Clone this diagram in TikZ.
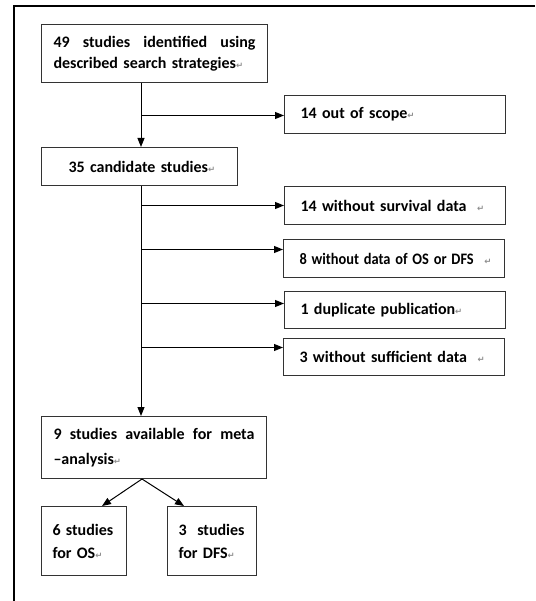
\documentclass[tikz,border=0pt]{standalone}
\usepackage{fontspec}
\setmainfont{Carlito}
\newfontfamily\dejavu{DejaVu Sans}
\usepackage{xcolor}
\usepackage{graphicx}
\usetikzlibrary{arrows.meta, positioning, calc}
\definecolor{markgray}{RGB}{140,140,140}
\newcommand{\pmark}{\rlap{\dejavu\fontsize{8.5}{9}\selectfont\color{markgray}↵}}

\begin{document}
\begin{tikzpicture}[
        x=1pt, y=1pt,
        box/.style={rectangle, draw=black!80, line width=1pt,
                    minimum height=38pt, inner xsep=12pt, inner ysep=0pt,
                    align=left, font=\bfseries\fontsize{16}{21}\selectfont},
        sidebox/.style={box, inner xsep=16pt, text width=189pt},
        smallbox/.style={box, inner xsep=11pt, minimum height=69pt},
        arr/.style={line width=1pt, -{Triangle[length=9pt, width=7pt]}}
      ]
        \useasboundingbox (0,0) rectangle (535,-601);
        % frame
        \draw[line width=2.7pt] (14,-601) -- (14,-6) -- (535,-6);

        % main column
        \node[box, text width=202pt, minimum height=58pt, anchor=north west]
              (n49) at (41,-24) {49\hfill studies\hfill identified\hfill using\\described search strategies\pmark};
        \node[box, text width=172pt, below=64pt of n49.south west, anchor=north west]
              (n35) {\hspace*{15pt}35 candidate studies\pmark};
        \node[box, text width=201pt, minimum height=62pt, below=230pt of n35.south west, anchor=north west]
              (n9) {9\hfill studies\hfill available\hfill for\hfill meta\\[4pt]–analysis\pmark};
        \node[smallbox, text width=63pt, below=27pt of n9.south west, anchor=north west]
              (os) {\mbox{6 studies}\\[2pt]for OS\pmark};
        \node[smallbox, text width=67pt, right=40pt of os.north east, anchor=north west]
              (dfs) {\mbox{3\ \ studies}\\[2pt]for DFS\pmark};

        % excluded
        \node[sidebox, below right=12pt and 16pt of n49.south east, anchor=north west]
              (scope) {14 out of scope\pmark};
        \node[sidebox, below=52pt of scope.south west, anchor=north west]
              (surv) {14 without survival data\ \ \pmark};
        \node[sidebox, below=14pt of surv.south west, anchor=north west, xshift=-1pt]
              (osdfs) {\scalebox{0.9}[1]{8 without data of OS or DFS}\ \ \pmark};
        \node[sidebox, below=13pt of osdfs.south west, anchor=north west, xshift=1pt, minimum height=37pt]
              (dup) {1 duplicate publication\pmark};
        \node[sidebox, below=9pt of dup.south west, anchor=north west, xshift=-1pt, minimum height=37pt]
              (suff) {3 without sufficient data\ \ \pmark};

        % trunk
        \coordinate (t0) at ($(n49.south west)+(100,0)$);
        \coordinate (t1) at ($(n35.south west)+(100,0)$);
        \draw[arr] (t0) -- (t0 |- n35.north);
        \draw[arr] (t1) -- (t1 |- n9.north);
        \foreach \n/\dy in {scope/-1, surv/0, osdfs/9, dup/6.5, suff/9.5}{
          \coordinate (b) at ([yshift=\dy pt]\n.west);
          \draw[arr] (b -| t1) -- (b);
        }

        % split
        \coordinate (t2) at ($(n9.south west)+(101,0)$);
        \draw[arr] (t2) -- ($(os.north west)+(61,0)$);
        \draw[arr] (t2) -- ($(dfs.north west)+(17,0)$);
      \end{tikzpicture}
\end{document}
